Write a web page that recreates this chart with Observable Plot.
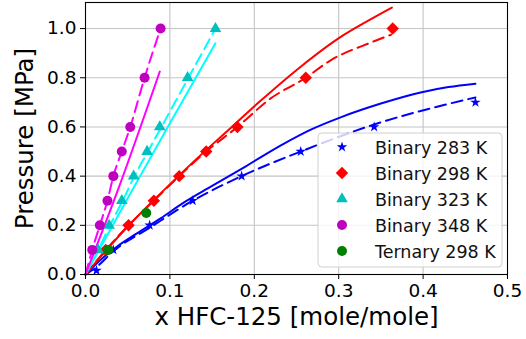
<!DOCTYPE html>
<html>
<head>
<meta charset="utf-8">
<script src="https://cdn.jsdelivr.net/npm/d3@7"></script>
<script src="https://cdn.jsdelivr.net/npm/@observablehq/plot@0.6"></script>
<style>
  html, body { margin: 0; padding: 0; background: #ffffff; }
  #chart { width: 526px; height: 339px; }
</style>
</head>
<body>
<div id="chart"></div>
<script>
// ---- Experimental points ----
const b283X = [0.013, 0.033, 0.076, 0.127, 0.185, 0.255, 0.342, 0.462];
const b283P = [0.016, 0.10, 0.20, 0.30, 0.40, 0.50, 0.60, 0.70];
const b298X = [0.024, 0.051, 0.081, 0.111, 0.143, 0.180, 0.261, 0.364];
const b298P = [0.10, 0.20, 0.30, 0.40, 0.50, 0.60, 0.80, 1.00];
const b323X = [0.015, 0.028, 0.043, 0.057, 0.073, 0.088, 0.121, 0.154];
const b323P = [0.10, 0.20, 0.30, 0.40, 0.50, 0.60, 0.80, 1.00];
const b348X = [0.008, 0.017, 0.026, 0.033, 0.043, 0.053, 0.070, 0.089];
const b348P = [0.10, 0.20, 0.30, 0.40, 0.50, 0.60, 0.80, 1.00];
const t298X = [0.027, 0.072];
const t298P = [0.10, 0.25];

// ---- Model curves (solid) ----
const s283X = [0, 0.02, 0.036, 0.06, 0.089, 0.115, 0.15, 0.19, 0.231, 0.267, 0.303, 0.35, 0.397, 0.43, 0.462];
const s283P = [0, 0.066, 0.11, 0.165, 0.228, 0.289, 0.36, 0.44, 0.524, 0.589, 0.64, 0.695, 0.74, 0.762, 0.776];
const s298X = [0, 0.025, 0.05, 0.089, 0.13, 0.17, 0.207, 0.255, 0.302, 0.334, 0.363];
const s298P = [0, 0.10, 0.195, 0.33, 0.465, 0.59, 0.705, 0.845, 0.965, 1.03, 1.085];
const s323X = [0, 0.05, 0.10, 0.154];
const s323P = [0, 0.31, 0.615, 0.94];
const s348X = [0, 0.038, 0.088];
const s348P = [0, 0.34, 0.825];

// ---- Model curves (dashed) ----
const d283X = [0, 0.013, 0.033, 0.076, 0.127, 0.185, 0.255, 0.342, 0.462];
const d283P = [0, 0.03, 0.095, 0.19, 0.30, 0.40, 0.50, 0.61, 0.72];
const d298X = [0, 0.024, 0.051, 0.081, 0.111, 0.143, 0.180, 0.219, 0.261, 0.290, 0.338, 0.362];
const d298P = [0, 0.10, 0.20, 0.30, 0.40, 0.50, 0.60, 0.715, 0.80, 0.87, 0.943, 0.975];
const d323X = [0, 0.015, 0.029, 0.044, 0.058, 0.074, 0.090, 0.122, 0.154];
const d323P = [0, 0.10, 0.20, 0.30, 0.40, 0.50, 0.60, 0.80, 1.00];
const d348X = [0, 0.008, 0.017, 0.026, 0.033, 0.043, 0.053, 0.070, 0.089];
const d348P = [0, 0.10, 0.20, 0.30, 0.40, 0.50, 0.60, 0.80, 1.00];

// ---- Ticks & labels ----
const xTicks = [0, 0.1, 0.2, 0.3, 0.4, 0.5];
const yTicks = [0, 0.2, 0.4, 0.6, 0.8, 1.0];
const xLabel = "x HFC-125 [mole/mole]";
const yLabel = "Pressure [MPa]";
const legendLabels = ["Binary 283 K", "Binary 298 K", "Binary 323 K", "Binary 348 K", "Ternary 298 K"];

const zip = (xs, ps) => xs.map((x, i) => ({x, p: ps[i]}));

const series = [
  {pts: zip(b283X, b283P), sol: zip(s283X, s283P), das: zip(d283X, d283P), mc: "#0000ff", lc: "#0000ff", sym: "star", r: 3.3},
  {pts: zip(b298X, b298P), sol: zip(s298X, s298P), das: zip(d298X, d298P), mc: "#ff0000", lc: "#ff0000", sym: "diamond2", r: 5.6},
  {pts: zip(b323X, b323P), sol: zip(s323X, s323P), das: zip(d323X, d323P), mc: "#00bfbf", lc: "#00ffff", sym: "triangle", r: 4.3},
  {pts: zip(b348X, b348P), sol: zip(s348X, s348P), das: zip(d348X, d348P), mc: "#bf00bf", lc: "#ff00ff", sym: "circle", r: 5},
  {pts: zip(t298X, t298P), sol: null, das: null, mc: "#008000", lc: "#008000", sym: "circle", r: 5}
];

const marks = [
  Plot.gridX(xTicks.slice(1, -1), {stroke: "#c4c4c4", strokeOpacity: 1, strokeWidth: 1.1}),
  Plot.gridY(yTicks.slice(1), {stroke: "#c4c4c4", strokeOpacity: 1, strokeWidth: 1.1}),
];
for (const s of series) {
  if (s.sol) marks.push(Plot.line(s.sol, {x: "x", y: "p", stroke: s.lc, strokeWidth: 2, curve: "monotone-x"}));
  if (s.das) marks.push(Plot.line(s.das, {x: "x", y: "p", stroke: s.lc, strokeWidth: 2, strokeDasharray: "11,6", curve: "monotone-x"}));
}
for (const s of series) {
  marks.push(Plot.dot(s.pts, {x: "x", y: "p", symbol: () => s.sym, r: s.r, fill: s.mc, stroke: "none"}));
}
marks.push(
  Plot.axisX({ticks: xTicks, tickFormat: d3.format(".1f"), tickSize: 5, tickPadding: 4, fontSize: 18.5, label: null}),
  Plot.axisY({ticks: yTicks, tickFormat: d3.format(".1f"), tickSize: 5, tickPadding: 4, fontSize: 18.5, label: null}),
  Plot.frame({stroke: "black", strokeWidth: 1.1}),
  Plot.text([xLabel], {frameAnchor: "bottom", dy: 43, fontSize: 24.5, lineAnchor: "middle", textAnchor: "middle", fill: "black"}),
  Plot.text([yLabel], {frameAnchor: "left", dx: -60, rotate: -90, fontSize: 24.5, lineAnchor: "middle", textAnchor: "middle", fill: "black"})
);

const chart = Plot.plot({
  width: 526,
  height: 339,
  marginLeft: 85,
  marginRight: 19,
  marginTop: 2,
  marginBottom: 65,
  x: {domain: [0, 0.5]},
  y: {domain: [0, 1.106]},
  style: {fontFamily: "'DejaVu Sans', sans-serif", fontSize: "18.5px", color: "black", background: "white", overflow: "visible"},
  marks
});
document.getElementById("chart").appendChild(chart);

// ---- Legend (drawn inside the plot's SVG) ----
const svg = d3.select(chart);
const lg = svg.append("g").attr("font-family", "'DejaVu Sans', sans-serif").attr("font-size", "17.5px").attr("text-anchor", "start");
lg.append("rect").attr("x", 318).attr("y", 133).attr("width", 184).attr("height", 134)
  .attr("rx", 4).attr("fill", "white").attr("fill-opacity", 0.8).attr("stroke", "#d0d0d0").attr("stroke-width", 1);
const symMap = {star: d3.symbolStar, diamond2: d3.symbolDiamond2, triangle: d3.symbolTriangle, circle: d3.symbolCircle};
legendLabels.forEach((lab, i) => {
  const s = series[i];
  const cy = 147 + i * 26;
  lg.append("path").attr("d", d3.symbol(symMap[s.sym], Math.PI * s.r * s.r)())
    .attr("transform", `translate(342,${cy})`).attr("fill", s.mc);
  lg.append("text").attr("x", 375).attr("y", cy + 6.5).attr("text-anchor", "start").attr("fill", "#111").text(lab);
});
</script>
</body>
</html>
